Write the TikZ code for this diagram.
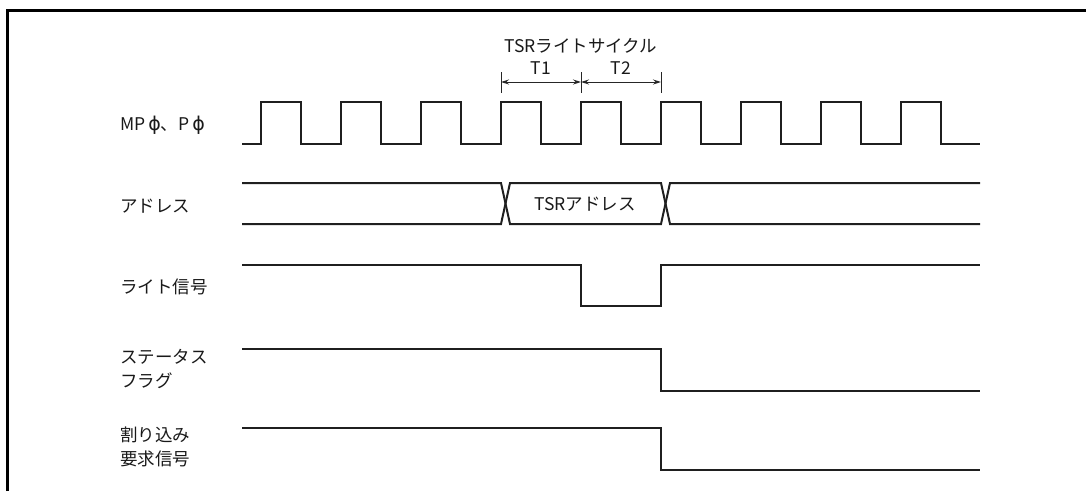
\documentclass[tikz,border=0pt]{standalone}
\usepackage{fontspec}
\setmainfont{Noto Sans CJK JP}
\newfontfamily\phifont{DejaVu Sans}
\usetikzlibrary{arrows.meta}
\begin{document}
\begin{tikzpicture}[x=1pt,y=-1pt,
  sig/.style={line width=2pt,line join=miter,black!88},
  lbl/.style={anchor=west,inner sep=0pt,font=\fontsize{17.5}{24}\selectfont,align=left,text=black!90},
  txt/.style={inner sep=0pt,font=\fontsize{17.5}{22}\selectfont,text=black!90},
  dim/.style={line width=1pt,black!85,{Stealth[length=8pt,width=5pt]}-{Stealth[length=8pt,width=5pt]}},
  tick/.style={line width=1pt,black!85}]
\useasboundingbox (0,0) rectangle (1086,491);
\draw[line width=3pt] (7,491) -- (7,10) -- (1086,10);
% labels
\node[lbl] (lclk) at (120,125) {MP\,{\phifont\fontsize{19}{24}\selectfont ϕ}、P\,{\phifont\fontsize{19}{24}\selectfont ϕ}};
\node[lbl] (ladr) at (120,206) {アドレス};
\node[lbl] (lwr) at (120,287) {ライト信号};
\node[lbl] (lst) at (120,369) {ステータス\\フラグ};
\node[lbl] (lirq) at (120,447) {割り込み\\要求信号};
% clock
\draw[sig] (242,144)
  \foreach \k in {0,...,8} {
    -- ({261+80*\k},144) -- ({261+80*\k},102) -- ({301+80*\k},102) -- ({301+80*\k},144)
  } -- (980,144);
% address bus
\draw[sig] (242,183) -- (501,183) -- (510,224) -- (661,224) -- (670,183) -- (980,183);
\draw[sig] (242,224) -- (501,224) -- (510,183) -- (661,183) -- (670,224) -- (980,224);
\node[txt] (tadr) at (585,204) {TSRアドレス};
% write signal
\draw[sig] (242,265) -- (581,265) -- (581,306) -- (661,306) -- (661,265) -- (980,265);
% status flag
\draw[sig] (242,349) -- (661,349) -- (661,391) -- (980,391);
% interrupt
\draw[sig] (242,428) -- (661,428) -- (661,470) -- (980,470);
% top dimension
\coordinate (a) at (501,82);
\coordinate (b) at (581,82);
\coordinate (c) at (661,82);
\draw[tick] (501,72) -- (501,93);
\draw[tick] (581,72) -- (581,93);
\draw[tick] (661,72) -- (661,93);
\draw[dim] (a) -- (b);
\draw[dim] (b) -- (c);
\node[txt] (t1) at (541,68) {T1};
\node[txt] (t2) at (621,68) {T2};
\node[txt] (title) at (581,46) {TSRライトサイクル};
\end{tikzpicture}
\end{document}
